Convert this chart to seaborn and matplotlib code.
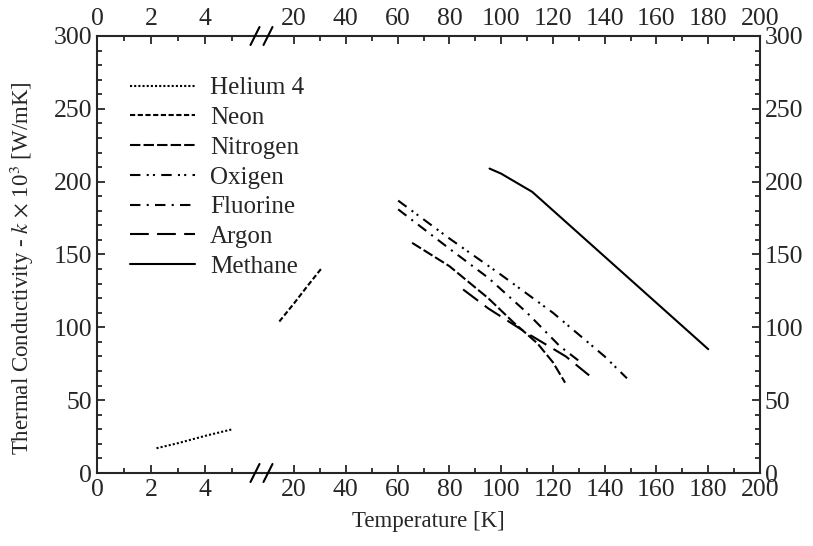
import numpy as np
import pandas as pd
import seaborn as sns
import matplotlib
matplotlib.use("Agg")
import matplotlib.pyplot as plt
from matplotlib.ticker import MultipleLocator, FixedLocator

# === Données ===
helium_T = [2.2, 3.0, 4.0, 5.0]
helium_k = [17, 20.5, 25.5, 30]

neon_T = [14.3, 20.0, 25.0, 30.8]
neon_k = [104, 116.5, 128, 141]

nitrogen_T = [65.6, 80, 95, 105, 114, 120, 124.7]
nitrogen_k = [158, 142, 120, 103, 89, 76, 62]

oxygen_T = [60.2, 80, 100, 120, 140, 148.6]
oxygen_k = [187, 161, 136, 110, 80, 65]

fluorine_T = [60.2, 80, 95, 110, 122.7, 130]
fluorine_k = [181, 154, 134, 110, 87, 77]

argon_T = [85.3, 95, 110, 125, 134]
argon_k = [126, 113, 96, 80, 67]

methane_T = [95.5, 100, 112, 180]
methane_k = [209, 205.5, 193, 85]

# === Style ===
sns.set_style("ticks")
plt.rcParams["font.family"] = ["Liberation Serif", "DejaVu Serif"]
plt.rcParams["mathtext.fontset"] = "stix"
plt.rcParams["font.size"] = 18

fig = plt.figure(figsize=(8.13, 5.46), dpi=100)
W, H = 813, 546
x0, xb, x1 = 97, 262, 760
y_top, y_bot = 36, 473
ax_l = fig.add_axes([x0 / W, (H - y_bot) / H, (xb - x0) / W, (y_bot - y_top) / H])
ax_r = fig.add_axes([xb / W, (H - y_bot) / H, (x1 - xb) / W, (y_bot - y_top) / H])

series = [
    ("Helium 4", helium_T, helium_k, (0, (1, 1)), ax_l),
    ("Neon", neon_T, neon_k, (0, (2.5, 1.2)), ax_r),
    ("Nitrogen", nitrogen_T, nitrogen_k, (0, (5, 1.5)), ax_r),
    ("Oxigen", oxygen_T, oxygen_k, (0, (5, 3, 1, 2, 1, 3)), ax_r),
    ("Fluorine", fluorine_T, fluorine_k, (0, (5, 3, 1, 3)), ax_r),
    ("Argon", argon_T, argon_k, (0, (9, 4)), ax_r),
    ("Methane", methane_T, methane_k, "-", ax_r),
]

handles = []
for nom, T, k, ls, ax in series:
    sns.lineplot(x=T, y=k, ax=ax, color="black", linestyle=ls, linewidth=1.5, sort=False)
    line = ax.lines[-1]
    line.set_label(nom)
    handles.append(line)

for ax in (ax_l, ax_r):
    if ax.get_legend() is not None:
        ax.get_legend().remove()
    ax.set_ylim(0, 300)
    ax.yaxis.set_major_locator(MultipleLocator(50))
    ax.yaxis.set_minor_locator(MultipleLocator(10))
    for sp in ax.spines.values():
        sp.set_linewidth(1.5)
    ax.tick_params(which="both", direction="in", top=True, labeltop=True, width=1.3)
    ax.tick_params(which="major", length=6, labelsize=18.5)
    ax.tick_params(which="minor", length=3.5)
    ax.tick_params(axis="x", which="major", pad=4)
    ax.set_xlabel("")
    ax.set_ylabel("")

ax_l.set_xlim(0, 6.1)
ax_l.xaxis.set_major_locator(FixedLocator([0, 2, 4]))
ax_l.xaxis.set_minor_locator(FixedLocator([1, 3, 5]))
ax_l.spines["right"].set_visible(False)
ax_l.tick_params(which="both", left=True, right=False, labelleft=True, labelright=False)

ax_r.set_xlim(7.6, 200)
ax_r.xaxis.set_major_locator(FixedLocator(list(range(20, 201, 20))))
ax_r.xaxis.set_minor_locator(FixedLocator(list(range(30, 200, 20))))
ax_r.spines["left"].set_visible(False)
ax_r.tick_params(which="both", left=False, right=True, labelleft=False, labelright=True)

# === Marques de coupure // ===
for xc in (255, 268):
    for yc in (y_bot, y_top):
        fig.add_artist(plt.Line2D([(xc - 4.5) / W, (xc + 4.5) / W],
                                  [(H - yc - 9) / H, (H - yc + 9) / H],
                                  color="black", linewidth=1.5))

fig.text((x0 + x1) / 2 / W, 1 - 522 / H, "Temperature [K]", ha="center", va="center",
         fontsize=16.5)
fig.text(22 / W, 1 - 268 / H,
         r"Thermal Conductivity - $k$ $\times$ 10$^3$ [W/mK]",
         rotation=90, ha="center", va="center", fontsize=16.5)

fig.legend(handles=handles, loc="upper left", bbox_to_anchor=(130 / W, 1 - 77 / H),
           frameon=False, borderpad=0, borderaxespad=0, handlelength=2.6,
           handletextpad=0.6, labelspacing=0.29, fontsize=18)

fig.savefig("out.png", dpi=100)
